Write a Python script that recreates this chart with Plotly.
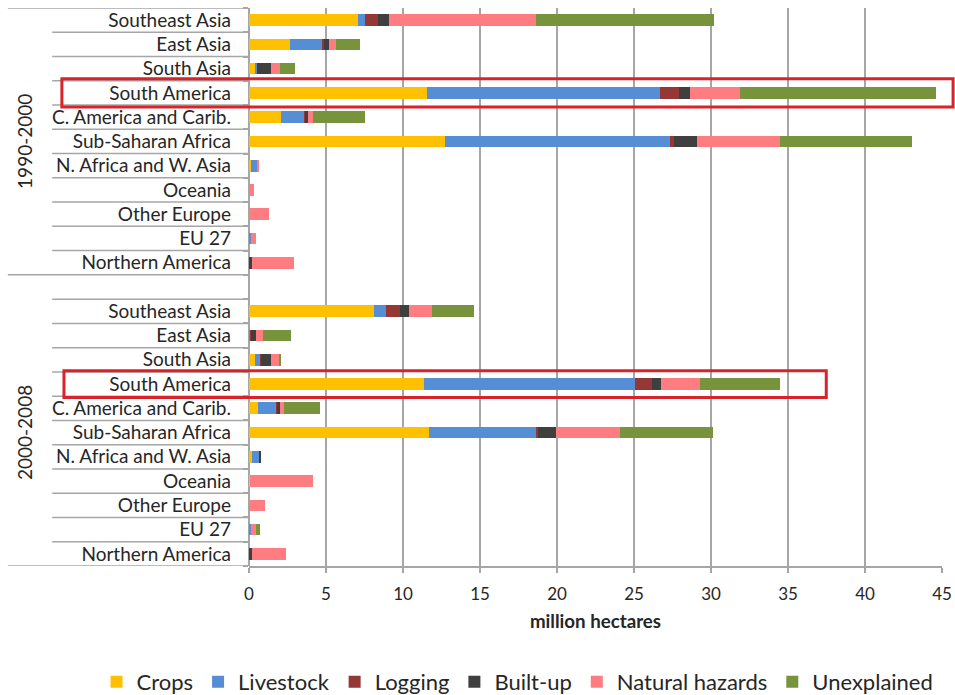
import plotly.graph_objects as go

regions = ["Southeast Asia", "East Asia", "South Asia", "South America",
           "C. America and Carib.", "Sub-Saharan Africa", "N. Africa and W. Asia",
           "Oceania", "Other Europe", "EU 27", "Northern America"]
periods = ["1990-2000", "2000-2008"]
series = ["Crops", "Livestock", "Logging", "Built-up", "Natural hazards", "Unexplained"]
colors = ["#FFC000", "#558ED5", "#953735", "#3F3F3F", "#FF7C80", "#77933C"]

# 1990-2000 values (million hectares), region order as above
crops_1990 = [7.06, 2.65, 0.41, 11.56, 2.06, 12.70, 0.10, 0.0, 0.0, 0.0, 0.0]
livestock_1990 = [0.47, 2.15, 0.12, 15.15, 1.53, 14.65, 0.40, 0.0, 0.0, 0.12, 0.0]
logging_1990 = [0.82, 0.05, 0.0, 1.18, 0.05, 0.24, 0.0, 0.0, 0.0, 0.0, 0.0]
builtup_1990 = [0.76, 0.32, 0.88, 0.74, 0.20, 1.47, 0.0, 0.0, 0.0, 0.0, 0.18]
hazards_1990 = [9.53, 0.47, 0.62, 3.26, 0.32, 5.44, 0.18, 0.32, 1.32, 0.32, 2.74]
unexpl_1990 = [11.56, 1.56, 0.94, 12.70, 3.38, 8.56, 0.0, 0.0, 0.0, 0.0, 0.0]

# 2000-2008 values
crops_2000 = [8.09, 0.05, 0.39, 11.34, 0.56, 11.71, 0.22, 0.08, 0.0, 0.05, 0.0]
livestock_2000 = [0.79, 0.05, 0.34, 13.74, 1.23, 6.93, 0.45, 0.0, 0.0, 0.05, 0.0]
logging_2000 = [0.94, 0.05, 0.05, 1.11, 0.05, 0.15, 0.0, 0.0, 0.0, 0.0, 0.0]
builtup_2000 = [0.57, 0.30, 0.63, 0.57, 0.15, 1.14, 0.06, 0.0, 0.0, 0.0, 0.17]
hazards_2000 = [1.49, 0.45, 0.56, 2.52, 0.28, 4.16, 0.0, 4.05, 1.03, 0.35, 2.22]
unexpl_2000 = [2.70, 1.80, 0.10, 5.22, 2.35, 6.01, 0.0, 0.0, 0.0, 0.25, 0.0]

data_1990 = [crops_1990, livestock_1990, logging_1990, builtup_1990, hazards_1990, unexpl_1990]
data_2000 = [crops_2000, livestock_2000, logging_2000, builtup_2000, hazards_2000, unexpl_2000]

n = len(regions)
# row positions: group 1 rows 0..10, empty gap row 11, group 2 rows 12..22
pos_1990 = list(range(n))
pos_2000 = [n + 1 + i for i in range(n)]
all_pos = pos_1990 + pos_2000
all_labels = regions + regions

grid = "#A6A6A6"
txt = "#262626"
font_family = "Lato, 'Open Sans', sans-serif"

fig = go.Figure()
for s, c, v1, v2 in zip(series, colors, data_1990, data_2000):
    fig.add_trace(go.Bar(
        x=v1 + v2, y=all_pos, orientation="h", name=s,
        marker=dict(color=c, line=dict(width=0)), width=0.48,
    ))

shapes = []
total_rows = 2 * n + 1
# horizontal separators in the category area
for b in range(total_rows + 1):
    yb = b - 0.5
    if b in (0, n, total_rows):
        x0 = -0.348
    elif b == n + 1 or (0 < b < n) or (n + 1 < b < total_rows):
        x0 = -0.284
    else:
        continue
    shapes.append(dict(type="line", xref="paper", yref="y", x0=x0, x1=0,
                       y0=yb, y1=yb, line=dict(color=grid, width=1.5)))
# red highlight boxes around South America rows
sa = regions.index("South America")
shapes.append(dict(type="rect", xref="paper", yref="y", x0=-0.270, x1=1.016,
                   y0=pos_1990[sa] - 0.58, y1=pos_1990[sa] + 0.58,
                   line=dict(color="#D9232A", width=3)))
shapes.append(dict(type="rect", xref="paper", yref="y", x0=-0.267, x1=0.833,
                   y0=pos_2000[sa] - 0.55, y1=pos_2000[sa] + 0.55,
                   line=dict(color="#D9232A", width=3)))

annotations = [
    dict(text=periods[0], xref="paper", yref="y", x=-0.324, y=(n - 1) / 2,
         xanchor="center", yanchor="middle",
         textangle=-90, showarrow=False, font=dict(size=19, color=txt, family=font_family)),
    dict(text=periods[1], xref="paper", yref="y", x=-0.324, y=n + 1 + (n - 1) / 2,
         xanchor="center", yanchor="middle",
         textangle=-90, showarrow=False, font=dict(size=19, color=txt, family=font_family)),
]

fig.update_layout(
    width=955, height=695,
    margin=dict(l=249, r=13, t=8, b=129, autoexpand=False),
    paper_bgcolor="white", plot_bgcolor="white",
    barmode="stack",
    font=dict(family=font_family, color=txt),
    shapes=shapes, annotations=annotations,
    showlegend=True,
    legend=dict(orientation="h", x=-0.2200, xanchor="left", y=-0.208, yanchor="middle",
                traceorder="normal", font=dict(size=22, color=txt),
                itemwidth=30, bgcolor="rgba(0,0,0,0)"),
    xaxis=dict(range=[0, 45], dtick=5, tick0=0, showgrid=True, gridcolor=grid, gridwidth=1.5,
               showline=True, linecolor=grid, linewidth=1.5,
               zeroline=True, zerolinecolor=grid, zerolinewidth=1.5,
               ticks="outside", ticklen=5, tickcolor=grid, tickwidth=1.5,
               tickfont=dict(size=17, color=txt), ticklabelstandoff=7, automargin=False,
               title=dict(text="<b>million hectares</b>", font=dict(size=18.7, color=txt), standoff=12)),
    yaxis=dict(range=[total_rows - 0.5, -0.5], tickvals=all_pos, ticktext=all_labels,
               showgrid=False, zeroline=False, showline=False, ticks="",
               tickfont=dict(size=19, color=txt), ticklabelstandoff=17, automargin=False,
               minor=dict(ticks="outside", tick0=0.5, dtick=1, ticklen=5,
                          tickcolor=grid, tickwidth=1.5, showgrid=False)),
)

fig.write_html("out.html", config={"displayModeBar": False},
               post_script="document.body.style.margin='0';")
